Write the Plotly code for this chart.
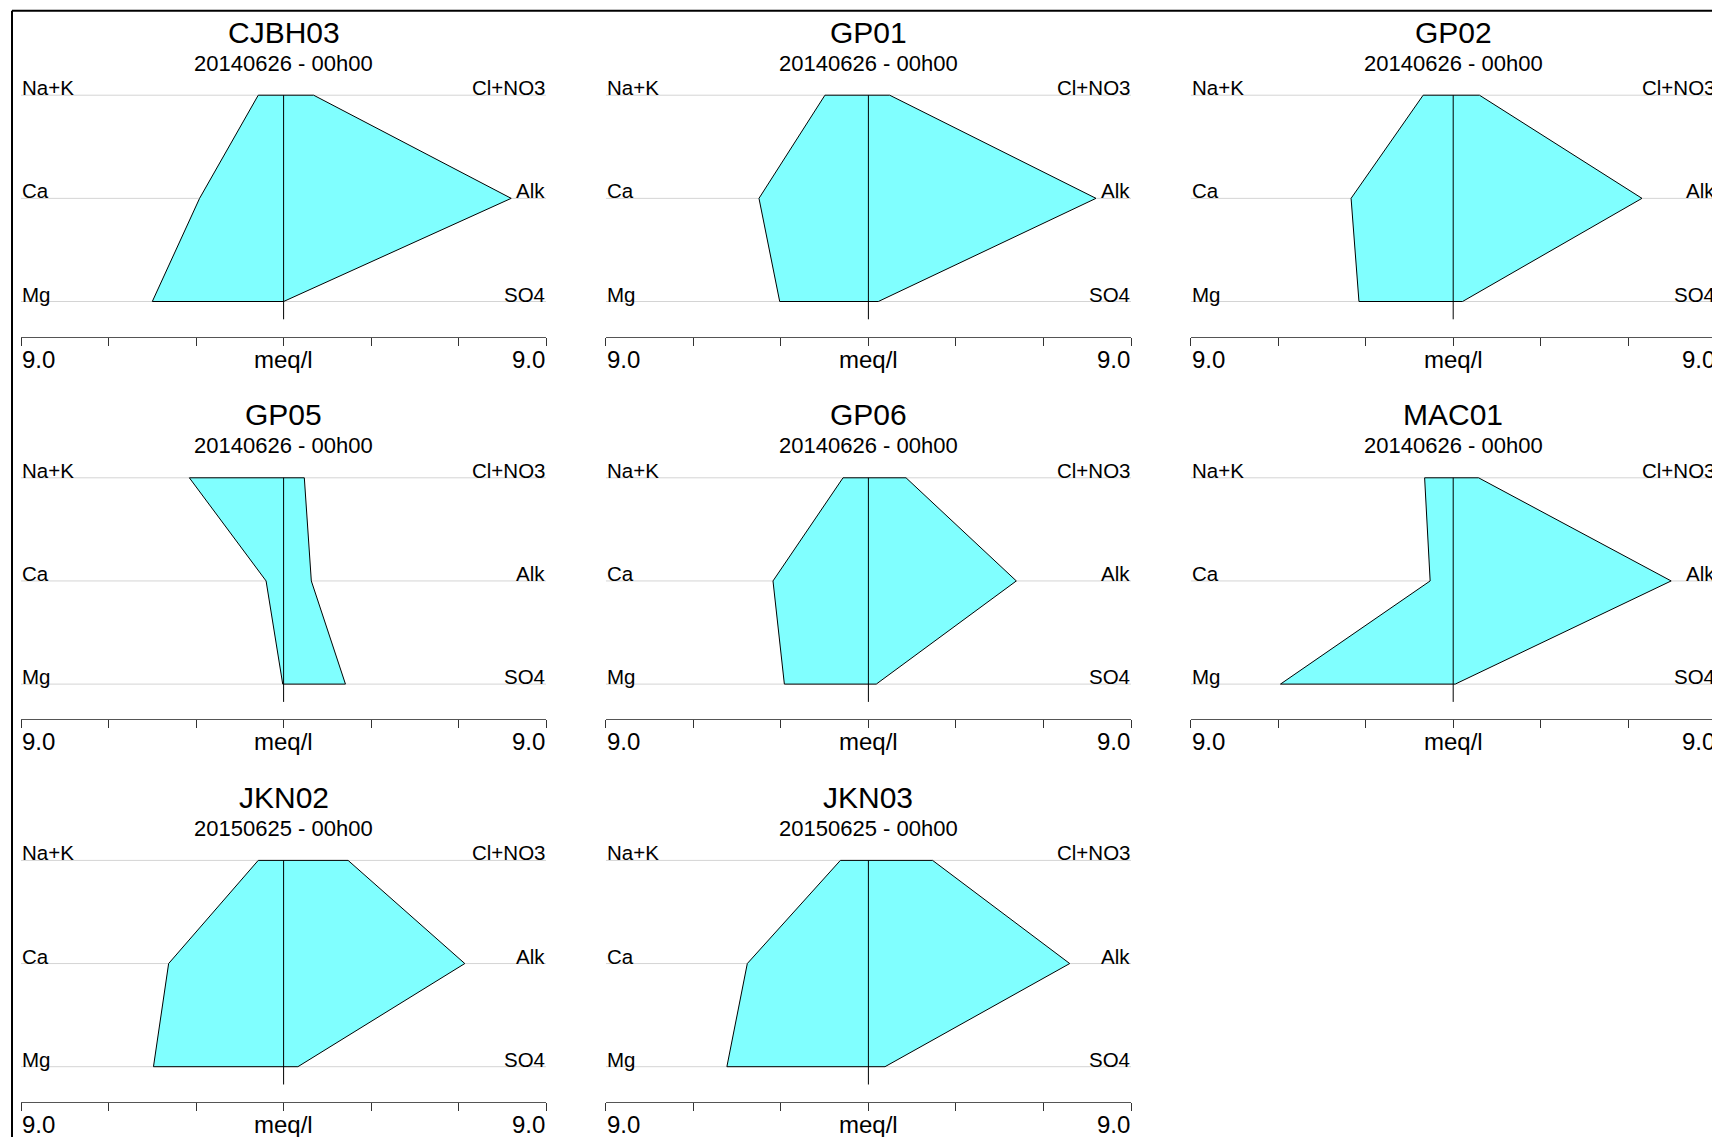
import plotly.graph_objects as go

# ---- data (meq/l) ----
stations = ["CJBH03", "GP01", "GP02", "GP05", "GP06", "MAC01", "JKN02", "JKN03"]
sample_dates = ["20140626 - 00h00", "20140626 - 00h00", "20140626 - 00h00",
                "20140626 - 00h00", "20140626 - 00h00", "20140626 - 00h00",
                "20150625 - 00h00", "20150625 - 00h00"]
na_k = [0.87, 1.49, 1.03, 3.23, 0.87, 0.98, 0.87, 0.96]
ca = [2.88, 3.75, 3.50, 0.60, 3.27, 0.79, 3.94, 4.15]
mg = [4.50, 3.04, 3.23, 0.03, 2.88, 5.92, 4.46, 4.85]
cl_no3 = [1.03, 0.73, 0.90, 0.71, 1.29, 0.87, 2.21, 2.20]
alk = [7.80, 7.80, 6.47, 0.95, 5.07, 7.47, 6.21, 6.90]
so4 = [0.00, 0.34, 0.32, 2.12, 0.27, 0.07, 0.49, 0.57]

cation_labels = ["Na+K", "Ca", "Mg"]
anion_labels = ["Cl+NO3", "Alk", "SO4"]
scale_max = 9.0
scale_ticks = [-9, -6, -3, 0, 3, 6, 9]
scale_unit = "meq/l"

# ---- page geometry (pixels) ----
W, H = 1712, 1137
FONT = "Liberation Sans, Arial, Helvetica, sans-serif"
COL_LEFT0 = 21.0
COL_STEP = 584.8
HALF_W = 262.6
ROW_STEP = 382.6
LINE_TOP0 = 95.2
LINE_GAP = 103.15
AXIS_Y0 = 336.7
PLOT_TOP0 = 80.0
TITLE_Y0 = 32.3
SUBTITLE_Y0 = 63.3
FILL = "#80FFFF"


def paper_x(px):
    return px / W


def paper_y(py):
    return 1 - py / H


fig = go.Figure()
axes = {}
annotations = []
ppm = HALF_W / scale_max

for i, name in enumerate(stations):
    r, c = divmod(i, 3)
    k = i + 1
    xa = "x" if k == 1 else f"x{k}"
    ya = "y" if k == 1 else f"y{k}"
    xkey = "xaxis" if k == 1 else f"xaxis{k}"
    ykey = "yaxis" if k == 1 else f"yaxis{k}"

    left = COL_LEFT0 + c * COL_STEP
    full_right = left + 2 * HALF_W
    right = min(full_right, W)
    xmax = -scale_max + (right - left) / ppm
    top_line = LINE_TOP0 + r * ROW_STEP
    axis_px = AXIS_Y0 + r * ROW_STEP
    plot_top = PLOT_TOP0 + r * ROW_STEP
    mg_line = top_line + 2 * LINE_GAP
    ymin = -(axis_px - mg_line) / LINE_GAP
    ymax = 2 + (top_line - plot_top) / LINE_GAP

    def px_of(v, left=left):
        # horizontal page position of a meq/l value in this panel
        return paper_x(left + (v + scale_max) * ppm)

    axes[xkey] = dict(domain=[paper_x(left), paper_x(right)], range=[-scale_max, xmax],
                      anchor=ya, showgrid=False, zeroline=False,
                      showline=True, linecolor="#555555", linewidth=1,
                      ticks="outside", ticklen=8, tickwidth=1, tickcolor="#333333",
                      tickvals=scale_ticks, showticklabels=False, fixedrange=True)
    axes[ykey] = dict(domain=[paper_y(axis_px), paper_y(plot_top)], range=[ymin, ymax],
                      anchor=xa, visible=False, fixedrange=True)

    # guide lines for each ion row
    fig.add_trace(go.Scatter(
        x=[-scale_max, scale_max, None, -scale_max, scale_max, None, -scale_max, scale_max],
        y=[2, 2, None, 1, 1, None, 0, 0],
        mode="lines", line=dict(color="#d4d4d4", width=1),
        xaxis=xa, yaxis=ya, hoverinfo="skip", showlegend=False))

    # Stiff polygon: cations to the left, anions to the right
    fig.add_trace(go.Scatter(
        x=[-na_k[i], -ca[i], -mg[i], so4[i], alk[i], cl_no3[i], -na_k[i]],
        y=[2, 1, 0, 0, 1, 2, 2],
        mode="lines", fill="toself", fillcolor=FILL,
        line=dict(color="black", width=1),
        xaxis=xa, yaxis=ya, name=name, showlegend=False))

    # centre line
    fig.add_trace(go.Scatter(
        x=[0, 0], y=[2, -0.1726], mode="lines",
        line=dict(color="black", width=1),
        xaxis=xa, yaxis=ya, hoverinfo="skip", showlegend=False))

    # titles
    annotations.append(dict(text=name, xref="paper", x=px_of(0), yref="paper",
                            y=paper_y(TITLE_Y0 + r * ROW_STEP), xanchor="center",
                            yanchor="middle", showarrow=False, borderpad=0,
                            font=dict(family=FONT, size=30, color="black")))
    annotations.append(dict(text=sample_dates[i], xref="paper", x=px_of(0), yref="paper",
                            y=paper_y(SUBTITLE_Y0 + r * ROW_STEP), xanchor="center",
                            yanchor="middle", showarrow=False, borderpad=0,
                            font=dict(family=FONT, size=22, color="black")))

    # ion labels
    for j in range(3):
        annotations.append(dict(text=cation_labels[j], xref="paper", x=px_of(-scale_max),
                                yref=ya, y=2 - j,
                                xanchor="left", yanchor="middle", yshift=7.5,
                                showarrow=False, borderpad=0,
                                font=dict(family=FONT, size=20.5, color="black")))
        annotations.append(dict(text=anion_labels[j], xref="paper", x=px_of(scale_max),
                                yref=ya, y=2 - j,
                                xanchor="right", yanchor="middle", yshift=7.5,
                                showarrow=False, borderpad=0,
                                font=dict(family=FONT, size=20.5, color="black")))

    # scale labels
    for xv, txt, anc in [(-scale_max, f"{scale_max:.1f}", "left"),
                         (0, scale_unit, "center"),
                         (scale_max, f"{scale_max:.1f}", "right")]:
        annotations.append(dict(text=txt, xref="paper", x=px_of(xv), yref=ya, y=ymin,
                                xanchor=anc, yanchor="middle", yshift=-22.6,
                                showarrow=False, borderpad=0,
                                font=dict(family=FONT, size=24, color="black")))

# outer frame (top and left edges visible on the page)
shapes = [
    dict(type="line", xref="paper", yref="paper",
         x0=paper_x(12), x1=1.02, y0=paper_y(10.7), y1=paper_y(10.7),
         line=dict(color="black", width=2)),
    dict(type="line", xref="paper", yref="paper",
         x0=paper_x(12), x1=paper_x(12), y0=paper_y(10.7), y1=-0.02,
         line=dict(color="black", width=2)),
]

fig.update_layout(
    width=W, height=H,
    margin=dict(l=0, r=0, t=0, b=0),
    paper_bgcolor="white", plot_bgcolor="white",
    showlegend=False,
    annotations=annotations,
    shapes=shapes,
    font=dict(family=FONT, color="black"),
    **axes,
)

fig.write_html("out.html", config={"displayModeBar": False})
